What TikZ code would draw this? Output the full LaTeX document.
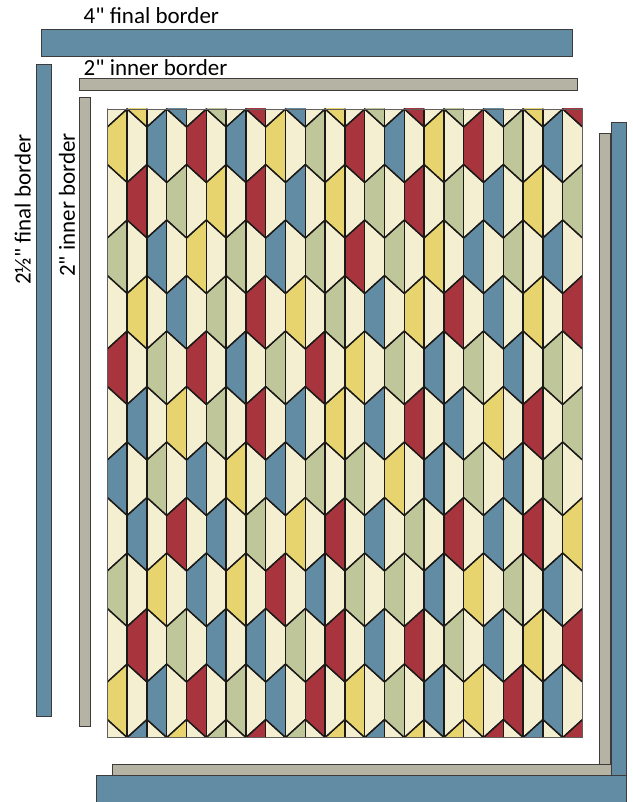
\documentclass[tikz,border=0pt]{standalone}
\usepackage{fontspec}
\setmainfont{Carlito}[Ligatures=TeXOff]
\definecolor{qb}{RGB}{98,140,164}
\definecolor{qr}{RGB}{168,53,62}
\definecolor{qy}{RGB}{232,212,110}
\definecolor{qg}{RGB}{191,199,154}
\definecolor{qc}{RGB}{245,239,210}
\definecolor{qgray}{RGB}{180,179,164}
\definecolor{qline}{RGB}{28,26,24}
\tikzset{
  seam/.style={draw=qline, line width=1.3pt, line cap=round, line join=round},
  bluebar/.style={fill=qb, draw=qline!85, line width=0.9pt},
  graybar/.style={fill=qgray, draw=qline!85, line width=0.9pt},
  lbl/.style={inner sep=0pt, font=\fontsize{23}{27}\selectfont, text=black}
}
\begin{document}
\begin{tikzpicture}[x=1pt,y=-1pt]
\useasboundingbox (0,0) rectangle (632,802);
\def\XO{107.3}\def\YO{109}\def\CW{19.8}\def\DD{18}\def\SS{37.5}
\def\PP{111}\def\HH{73.5}\def\XR{582.5}\def\YB{737.5}
% borders
\draw[bluebar] (41.5,29.5) rectangle (572.5,56);
\draw[graybar] (79.4,78.8) rectangle (577.8,90);
\draw[bluebar] (36,64.4) rectangle (51.8,716.7);
\draw[graybar] (79.3,97) rectangle (90.7,726);
\draw[bluebar] (611.7,122) rectangle (626.7,775.7);
\draw[graybar] (599.3,133) rectangle (610.9,764);
\draw[graybar] (112.3,764) rectangle (611.7,775.7);
\draw[bluebar] (96.7,775.7) rectangle (626.7,812);
% labels
\node[lbl, anchor=base west] (tfinal) at (83.5,24) {4" final border};
\node[lbl, anchor=base west] (tinner) at (83.5,76) {2" inner border};
\node[lbl, anchor=base west, rotate=90] (lfinal) at (30.5,285) {2½" final border};
\node[lbl, anchor=base west, rotate=90] (linner) at (74.8,277) {2" inner border};
% quilt
\begin{scope}
\clip (\XO,\YO) rectangle (\XR,\YB);
\fill[qc] (\XO,\YO) rectangle (\XR,\YB);
\foreach \cols [count=\c from 0] in {
 {qy,qg,qr,qb,qg,qy},
 {qy,qr,qy,qb,qb,qr,qb},
 {qb,qb,qg,qg,qy,qb},
 {qb,qg,qb,qy,qr,qg,qy},
 {qr,qy,qr,qb,qb,qr},
 {qg,qy,qg,qg,qb,qb,qg},
 {qb,qg,qb,qy,qy,qg},
 {qr,qr,qr,qr,qg,qb,qr},
 {qy,qb,qg,qb,qr,qb},
 {qb,qb,qy,qb,qy,qg,qg},
 {qg,qg,qr,qg,qb,qr},
 {qy,qy,qg,qy,qr,qr,qy},
 {qr,qr,qy,qg,qg,qy},
 {qg,qg,qb,qb,qb,qb,qb},
 {qb,qg,qg,qy,qg,qg},
 {qr,qr,qy,qr,qg,qr,qy},
 {qy,qy,qb,qb,qb,qb},
 {qg,qg,qr,qb,qr,qg,qy},
 {qr,qb,qg,qg,qy,qy},
 {qb,qb,qb,qy,qb,qb,qr},
 {qg,qg,qb,qb,qg,qr},
 {qy,qy,qy,qr,qr,qy,qb},
 {qb,qb,qg,qg,qb,qb},
 {qr,qg,qr,qg,qy,qr,qr}}{
  \foreach \col [count=\n from 0] in \cols {
    \pgfmathsetmacro{\xk}{\XO+(\c+1)*\CW}
    \pgfmathsetmacro{\ty}{\YO+\n*\PP-mod(\c,2)*\PP/2}
    \fill[\col] (\xk,\ty) -- (\xk-\CW,\ty+\DD) -- (\xk-\CW,\ty+\DD+\SS) -- (\xk,\ty+\HH) -- cycle;
  }
}
\foreach \k in {0,...,24}{
  \pgfmathsetmacro{\xk}{\XO+\k*\CW}
  \draw[seam] (\xk,\YO) -- (\xk,\YB);
  \foreach \n in {-1,...,6}{
    \pgfmathsetmacro{\ty}{\YO+\n*\PP-mod(\k+1,2)*\PP/2}
    \draw[seam] (\xk-\CW,\ty+\DD) -- (\xk,\ty) -- (\xk+\CW,\ty+\DD);
    \draw[seam] (\xk-\CW,\ty+\DD+\SS) -- (\xk,\ty+\HH) -- (\xk+\CW,\ty+\DD+\SS);
  }
}
\end{scope}
\draw[qline!70, line width=0.8pt] (\XO,\YO) rectangle (\XR,\YB);
\end{tikzpicture}
\end{document}
